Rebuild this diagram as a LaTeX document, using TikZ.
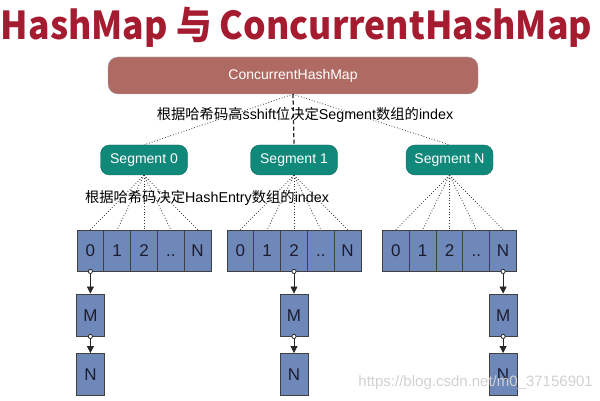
\documentclass[tikz,border=0pt]{standalone}
\usepackage{fontspec}
\setmainfont{Liberation Sans}
\newfontfamily\cjk{Noto Sans CJK SC}
\usetikzlibrary{arrows.meta}
\definecolor{titlered}{HTML}{A51C30}
\definecolor{boxred}{HTML}{B06A64}
\definecolor{segteal}{HTML}{10897B}
\definecolor{cellblue}{HTML}{6F88BA}
\definecolor{celltext}{HTML}{1C1C2E}
\newcommand{\zh}[1]{{\cjk #1}}
\tikzset{
	ttlfont/.style={font=\cjk\bfseries\fontsize{35.6}{40}\selectfont, text=titlered, inner sep=0pt},
	mapbox/.style={rectangle, rounded corners=10pt, fill=boxred, draw=gray!70,
		text=white, minimum width=370, minimum height=37, font=\fontsize{14}{16}\selectfont},
	segbox/.style={rectangle, rounded corners=9pt, fill=segteal, draw=segteal!80!black,
		text=white, minimum width=87, minimum height=30, font=\fontsize{14}{16}\selectfont},
	cell/.style={rectangle, fill=cellblue, draw=black!75, line width=0.9pt, inner sep=0pt,
		text height=12pt, text depth=0pt,
		minimum width=26.8, minimum height=41, text=celltext, font=\fontsize{17}{19}\selectfont},
	note/.style={font=\fontsize{14.3}{16}\selectfont, inner sep=0pt},
	dotline/.style={dotted, line width=0.8pt, black!80},
	dashline/.style={dash pattern=on 4pt off 2.5pt, line width=1.3pt, black!85},
	link/.style={black!85, line width=0.8pt, shorten <=-2.5pt,
		{Circle[length=5pt, fill=white]}-{Triangle[length=7pt, width=7pt]}},
	wmark/.style={font=\fontsize{15}{17}\selectfont, text=black!18, inner sep=0pt}
}
\begin{document}
\begin{tikzpicture}[x=1pt,y=-1pt]
	\useasboundingbox (0,0) rectangle (600,401);
	\node[ttlfont, anchor=base, yscale=1.08] (ttl) at (296.5,40) {HashMap 与 ConcurrentHashMap};
	\node[mapbox] (chm) at (293,75.5) {ConcurrentHashMap};
	\foreach \s/\x in {0/144,1/294,N/449.5}
		\node[segbox] (seg\s) at (\x,160) {Segment \s};
	\foreach \s/\l in {0/77,1/227,N/382.5}
		\foreach \c/\t in {0/0,1/1,2/2,3/..,4/N}
			\node[cell] (c\s-\c) at (\l+26.8*\c+13.4,250.5) {\t};
	% ConcurrentHashMap -> Segment
	\draw[dotline] (chm.south) -- (seg0.north);
	\draw[dashline] (chm.south) -- (seg1.north);
	\draw[dotline] (chm.south) -- (segN.north);
	% Segment -> HashEntry
	\foreach \s in {0,1,N}
		\foreach \c in {0,...,4}
			\draw[dotline] (seg\s.south) -- (c\s-\c.north);
	\node[note] (lbl1) at (305,115) {\zh{根据哈希码高}sshift\zh{位决定}Segment\zh{数组的}index};
	\node[note] (lbl2) at (207,198) {\zh{根据哈希码决定}HashEntry\zh{数组的}index};
	% chains
	\foreach \s/\c/\x in {0/0/90.4,1/2/294,N/4/503.1}{
		\node[cell, minimum width=28, minimum height=42] (m\s) at (\x,315) {M};
		\node[cell, minimum width=28, minimum height=42] (n\s) at (\x,374.5) {N};
		\draw[link] (c\s-\c.south) -- (m\s.north);
		\draw[link] (m\s.south) -- (n\s.north);
	}
	\node[wmark, anchor=east] (url) at (593,383) {https://blog.csdn.net/m0\_37156901};
\end{tikzpicture}
\end{document}
